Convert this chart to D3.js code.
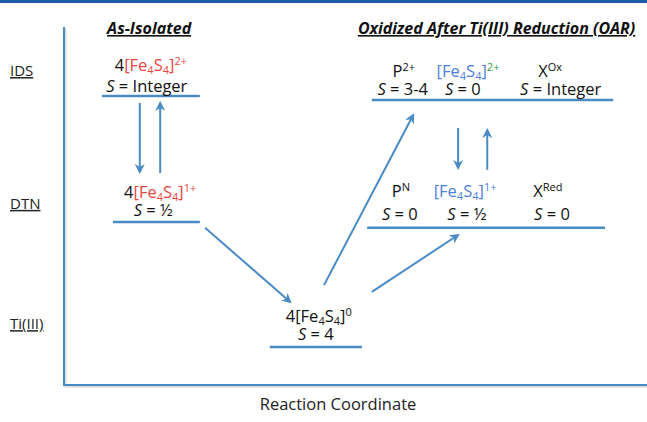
<!DOCTYPE html>
<html>
<head>
<meta charset="utf-8">
<script src="https://cdn.jsdelivr.net/npm/d3@7"></script>
<style>
	body { margin: 0; background: #fff; }
	text { font-family: "Open Sans", Lato, sans-serif; }
</style>
</head>
<body>
<script>
// energy levels (reaction coordinate 0-100, relative energy 0-100)
var levelNames = ['asIDS', 'asDTN', 'ti', 'oarIDS', 'oarDTN'];
var levelStart = [6.5, 8.4, 35.3, 52.8, 52.0];
var levelEnd = [23.3, 23.3, 51.1, 94.2, 92.8];
var levelEnergy = [80.7, 45.5, 10.6, 79.6, 43.9];

// state names on the energy axis
var stateNames = ['IDS', 'DTN', 'Ti(III)'];
var stateEnergy = [86.3, 49.2, 15.6];

// arrows: [x from, energy from, x to, energy to]
var arrows = [
	[13.0, 78.8, 13.0, 59.5],
	[16.5, 59.2, 16.5, 78.8],
	[24.2, 43.9, 38.8, 23.2],
	[44.6, 27.9, 59.9, 75.4],
	[52.8, 26.0, 67.6, 41.9],
	[67.6, 71.8, 67.6, 60.6],
	[72.6, 60.1, 72.6, 71.2]
];

// species labels: level, row (1 = formula, 2 = spin), x centre, parts [text, style]
// style: k/r/b/g colour, _ subscript, ^ superscript, i italic
var labels = [
	['asIDS', 1, 14.9, [['4','k'],['[Fe','r'],['4','r_'],['S','r'],['4','r_'],[']','r'],['2+','r^']]],
	['asIDS', 2, 14.2, [['S','ki'],[' = Integer','k']]],
	['asDTN', 1, 16.5, [['4','k'],['[Fe','r'],['4','r_'],['S','r'],['4','r_'],[']','r'],['1+','r^']]],
	['asDTN', 2, 15.3, [['S','ki'],[' = \u00BD','k']]],
	['ti', 1, 43.7, [['4[Fe','k'],['4','k_'],['S','k'],['4','k_'],[']','k'],['0','k^']]],
	['ti', 2, 43.2, [['S','ki'],[' = 4','k']]],
	['oarIDS', 1, 58.3, [['P','k'],['2+','k^']]],
	['oarIDS', 1, 69.3, [['[Fe','b'],['4','b_'],['S','b'],['4','b_'],[']','b'],['2+','g^']]],
	['oarIDS', 1, 83.4, [['X','k'],['Ox','k^']]],
	['oarIDS', 2, 58.1, [['S','ki'],[' = 3-4','k']]],
	['oarIDS', 2, 68.4, [['S','ki'],[' = 0','k']]],
	['oarIDS', 2, 85.2, [['S','ki'],[' = Integer','k']]],
	['oarDTN', 1, 57.8, [['P','k'],['N','k^']]],
	['oarDTN', 1, 68.8, [['[Fe','b'],['4','b_'],['S','b'],['4','b_'],[']','b'],['1+','b^']]],
	['oarDTN', 1, 83.0, [['X','k'],['Red','k^']]],
	['oarDTN', 2, 57.6, [['S','ki'],[' = 0','k']]],
	['oarDTN', 2, 69.1, [['S','ki'],[' = \u00BD','k']]],
	['oarDTN', 2, 83.7, [['S','ki'],[' = 0','k']]]
];

var titles = ['As-Isolated', 'Oxidized After Ti(III) Reduction (OAR)'];
var titleX = [14.6, 74.2];

var W = 647, H = 422;
var blue = '#4a8bc6';
var colours = { k: '#111', r: '#e8453f', b: '#4d7fe0', g: '#34a534' };

// baseline offsets of the two label rows above each level line (px)
var rowOffset = {
	asIDS: [-25, -4], asDTN: [-24, -6], ti: [-25, -7],
	oarIDS: [-23, -5], oarDTN: [-31, -8]
};

var x = d3.scaleLinear().domain([0, 100]).range([64, 647]),
	y = d3.scaleLinear().domain([0, 100]).range([385, 27]);

var svg = d3.select('body').append('svg')
	.attr('width', W)
	.attr('height', H);

svg.append('defs').append('marker')
	.attr('id', 'head')
	.attr('viewBox', '0 0 10 10')
	.attr('refX', 8)
	.attr('refY', 5)
	.attr('markerWidth', 5)
	.attr('markerHeight', 5)
	.attr('orient', 'auto')
	.append('path')
	.attr('d', 'M0,0 L10,5 L0,10 L3,5 Z')
	.style('fill', blue);

// top band
svg.append('rect')
	.attr('x', 0).attr('y', 0)
	.attr('width', W).attr('height', 3)
	.style('fill', '#1b5ba7');

// axes with a soft shadow
var axisPts = [[x(100), y(0)], [x(0), y(0)], [x(0), y(100)]];
svg.append('path')
	.attr('d', d3.line()(axisPts.map(function(p) { return [p[0] + 1.5, p[1] + 1.5]; })))
	.style('fill', 'none')
	.style('stroke', '#d8d8d8')
	.style('stroke-width', 2);
svg.append('path')
	.attr('d', d3.line()(axisPts))
	.style('fill', 'none')
	.style('stroke', blue)
	.style('stroke-width', 2);

// state labels
svg.selectAll('.state')
	.data(stateNames)
	.enter().append('text')
	.attr('class', 'state')
	.attr('x', 10)
	.attr('y', function(d, i) { return y(stateEnergy[i]); })
	.style('font-size', '15px')
	.style('text-decoration', 'underline')
	.style('fill', '#222')
	.text(function(d) { return d; });

// titles
svg.selectAll('.title')
	.data(titles)
	.enter().append('text')
	.attr('class', 'title')
	.attr('x', function(d, i) { return x(titleX[i]); })
	.attr('y', 34)
	.attr('text-anchor', 'middle')
	.style('font-size', '16px')
	.style('font-weight', 'bold')
	.style('font-style', 'italic')
	.style('text-decoration', 'underline')
	.style('fill', '#111')
	.text(function(d) { return d; });

// level lines
svg.selectAll('.level')
	.data(levelNames)
	.enter().append('line')
	.attr('class', 'level')
	.attr('x1', function(d, i) { return x(levelStart[i]); })
	.attr('x2', function(d, i) { return x(levelEnd[i]); })
	.attr('y1', function(d, i) { return y(levelEnergy[i]); })
	.attr('y2', function(d, i) { return y(levelEnergy[i]); })
	.style('stroke', blue)
	.style('stroke-width', 2.5);

// arrows
svg.selectAll('.arrow')
	.data(arrows)
	.enter().append('line')
	.attr('class', 'arrow')
	.attr('x1', function(d) { return x(d[0]); })
	.attr('y1', function(d) { return y(d[1]); })
	.attr('x2', function(d) { return x(d[2]); })
	.attr('y2', function(d) { return y(d[3]); })
	.style('stroke', blue)
	.style('stroke-width', 2)
	.attr('marker-end', 'url(#head)');

// species labels
labels.forEach(function(l) {
	var li = levelNames.indexOf(l[0]);
	var base = y(levelEnergy[li]) + rowOffset[l[0]][l[1] - 1];
	var t = svg.append('text')
		.attr('x', x(l[2]))
		.attr('y', base)
		.attr('text-anchor', 'middle')
		.style('font-size', '16.5px');
	var shift = 0;
	l[3].forEach(function(p) {
		var st = p[1];
		var target = st.indexOf('_') >= 0 ? 3 : st.indexOf('^') >= 0 ? -6 : 0;
		var ts = t.append('tspan')
			.attr('dy', target - shift)
			.style('fill', colours[st[0]])
			.text(p[0]);
		if (target !== 0) ts.style('font-size', '11px');
		if (st.indexOf('i') >= 0) ts.style('font-style', 'italic');
		shift = target;
	});
});

svg.append('text')
	.attr('x', x(47.0))
	.attr('y', 410)
	.attr('text-anchor', 'middle')
	.style('font-size', '16.5px')
	.style('fill', '#222')
	.text('Reaction Coordinate');
</script>
</body>
</html>
